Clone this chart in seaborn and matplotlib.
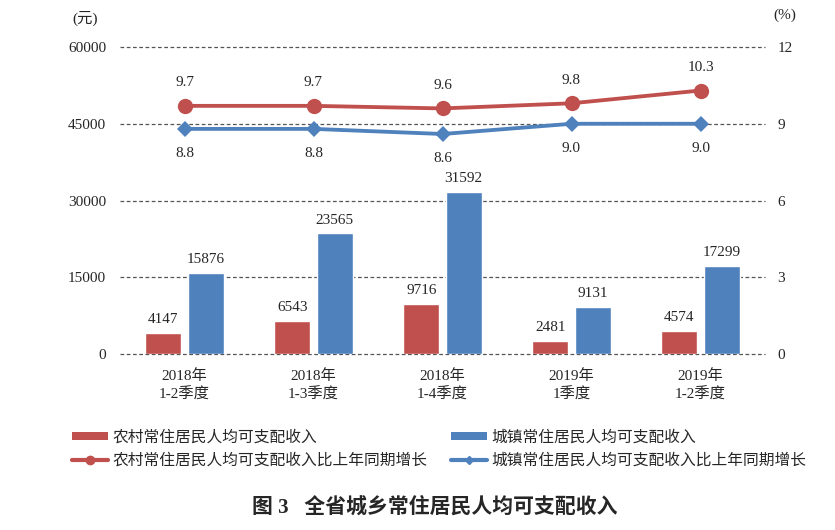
import numpy as np
import pandas as pd
import seaborn as sns
import matplotlib
matplotlib.use('Agg')
import matplotlib.pyplot as plt
from matplotlib.lines import Line2D
from matplotlib.patches import Patch

# Data
periods = ['2018年\n1-2季度', '2018年\n1-3季度', '2018年\n1-4季度', '2019年\n1季度', '2019年\n1-2季度']
rural_income = [4147, 6543, 9716, 2481, 4574]
urban_income = [15876, 23565, 31592, 9131, 17299]
rural_growth = [9.7, 9.7, 9.6, 9.8, 10.3]
urban_growth = [8.8, 8.8, 8.6, 9.0, 9.0]
left_ticks = [0, 15000, 30000, 45000, 60000]
right_ticks = [0, 3, 6, 9, 12]

rural_name = '农村常住居民人均可支配收入'
urban_name = '城镇常住居民人均可支配收入'
rural_g_name = '农村常住居民人均可支配收入比上年同期增长'
urban_g_name = '城镇常住居民人均可支配收入比上年同期增长'

red = '#C0504D'
blue = '#4F81BD'

sns.set_theme(style='white')
num_font = ['Liberation Serif', 'Noto Sans CJK SC']
cjk_font = ['Noto Sans CJK SC', 'DejaVu Sans']
plt.rcParams['font.family'] = num_font

bars = pd.DataFrame({
    'period': periods * 2,
    'value': rural_income + urban_income,
    'series': [rural_name] * 5 + [urban_name] * 5,
})
lines = pd.DataFrame({
    'x': list(range(5)) * 2,
    'value': rural_growth + urban_growth,
    'series': [rural_g_name] * 5 + [urban_g_name] * 5,
})

fig = plt.figure(figsize=(8.35, 5.30), dpi=100)
ax = fig.add_axes([120 / 835, 0.332, 645 / 835, 0.5793])

# dashed gridlines (incl. the zero line) behind the bars
for t in left_ticks:
    ax.axhline(t, linestyle=(0, (3, 2)), color='#555555', linewidth=0.9,
               clip_on=False, zorder=0.5)

sns.barplot(data=bars, x='period', y='value', hue='series', palette=[red, blue],
            width=0.656, gap=0.15, ax=ax, legend=False, saturation=1, zorder=2)
ax.set_ylim(0, 60000)
ax.set_yticks(left_ticks)
ax.set_xlim(-0.5, 4.5)
ax.set(xlabel='', ylabel='')
ax.grid(False)
for s in ax.spines.values():
    s.set_visible(False)
ax.tick_params(axis='y', labelsize=11, length=0, pad=10)
ax.tick_params(axis='x', labelsize=11, length=0, pad=11)
for lab in ax.get_xticklabels():
    lab.set_family(num_font)
    lab.set_linespacing(1.4)

for cont in ax.containers:
    ax.bar_label(cont, fontsize=11, padding=5)

ax2 = ax.twinx()
sns.lineplot(data=lines[lines['series'] == rural_g_name], x='x', y='value', ax=ax2,
             color=red, marker='o', markersize=11, linewidth=2.75, markeredgewidth=0, legend=False)
sns.lineplot(data=lines[lines['series'] == urban_g_name], x='x', y='value', ax=ax2,
             color=blue, marker='D', markersize=8, linewidth=2.75, markeredgewidth=0, legend=False)
ax2.set_ylim(0, 12)
ax2.set_yticks(right_ticks)
ax2.set(xlabel='', ylabel='')
ax2.grid(False)
for s in ax2.spines.values():
    s.set_visible(False)
ax2.tick_params(axis='y', labelsize=11, length=0, pad=9)

for i, v in enumerate(rural_growth):
    ax2.annotate(f'{v:.1f}', (i, v), xytext=(0, 12), textcoords='offset points',
                 ha='center', va='bottom', fontsize=11)
for i, v in enumerate(urban_growth):
    ax2.annotate(f'{v:.1f}', (i, v), xytext=(0, -13), textcoords='offset points',
                 ha='center', va='top', fontsize=11)

fig.text(0.102, 0.966, '(元)', ha='center', va='center', fontsize=11)
fig.text(0.940, 0.971, '(%)', ha='center', va='center', fontsize=11)

handles = [
    Patch(facecolor=red, edgecolor='none'),
    Line2D([], [], color=red, marker='o', markersize=6, linewidth=3),
    Patch(facecolor=blue, edgecolor='none'),
    Line2D([], [], color=blue, marker='D', markersize=4.5, linewidth=3),
]
labels = [rural_name, rural_g_name, urban_name, urban_g_name]
fig.legend(handles, labels, ncol=2, loc='center left', bbox_to_anchor=(72 / 835, 0.1534),
           frameon=False, prop={'family': cjk_font, 'size': 11.3}, handlelength=2.3,
           handleheight=0.45, columnspacing=1.5, labelspacing=0.4, handletextpad=0.27,
           borderpad=0, borderaxespad=0)

fig.text(435 / 835, 1 - 507 / 530, '图 3   全省城乡常住居民人均可支配收入', ha='center', va='center',
         fontsize=15, fontweight='bold', family=['Liberation Serif', 'Noto Sans CJK SC'])

fig.savefig('out.png', dpi=100)
